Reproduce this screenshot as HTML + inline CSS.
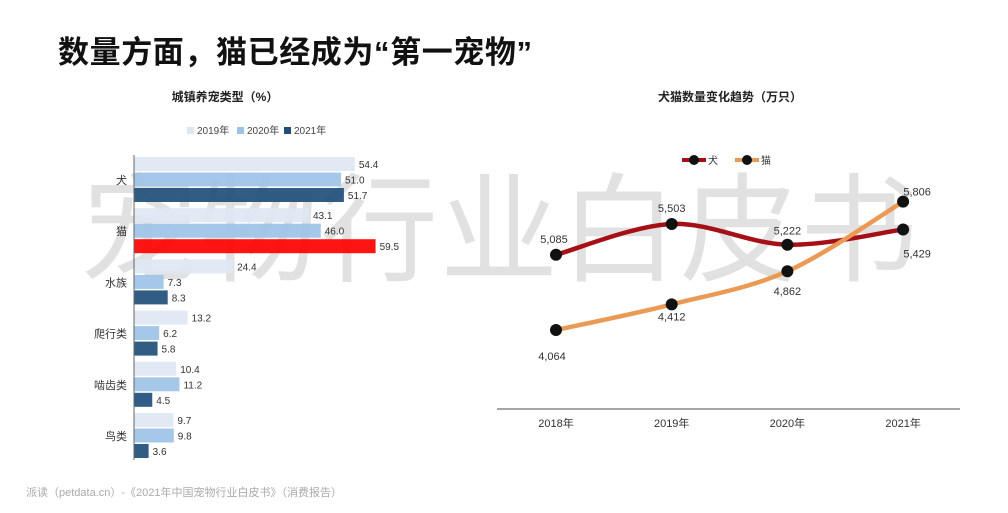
<!DOCTYPE html>
<html><head><meta charset="utf-8">
<style>
body{margin:0;width:1008px;height:513px;background:#fff;overflow:hidden;position:relative;font-family:"Liberation Sans","Noto Sans CJK SC",sans-serif;}
#title{position:absolute;left:58px;top:27px;font-size:31px;font-weight:bold;color:#111;letter-spacing:0.6px;white-space:nowrap;}
#footer{position:absolute;left:26px;top:484px;font-size:11px;color:#aaa;}
svg{position:absolute;left:0;top:0;}
</style></head><body>
<div id="title">数量方面，猫已经成为“第一宠物”</div>
<svg id="chart" width="1008" height="513"></svg>
<div id="footer">派读（petdata.cn）-《2021年中国宠物行业白皮书》（消费报告）</div>
<script>
const barCategories=["犬","猫","水族","爬行类","啮齿类","鸟类"];
const bar2019=[54.4,43.1,24.4,13.2,10.4,9.7];
const bar2020=[51.0,46.0,7.3,6.2,11.2,9.8];
const bar2021=[51.7,59.5,8.3,5.8,4.5,3.6];
const barSeriesNames=["2019年","2020年","2021年"];
const lineYears=["2018年","2019年","2020年","2021年"];
const dogValues=[5085,5503,5222,5429];
const catValues=[4064,4412,4862,5806];
const lineSeriesNames=["犬","猫"];

const svg=document.getElementById('chart');
const NS='http://www.w3.org/2000/svg';
function mk(t,a,txt){const e=document.createElementNS(NS,t);for(const k in a)e.setAttribute(k,a[k]);if(txt!==undefined)e.textContent=txt;svg.appendChild(e);return e;}
const F='"Liberation Sans","Noto Sans CJK SC",sans-serif';

// watermark (behind)
let w=mk('text',{x:500,y:272,'font-size':118,'text-anchor':'middle','font-family':F,fill:'#c4c4c4','fill-opacity':0.5,'letter-spacing':2},'宠物行业白皮书');


// ---- bar chart ----
const bx0=134, bpx=4.06;
const xb=v=>bx0+v*bpx;
const gy=i=>157+i*51.2;
const colors=["#dde7f3","#9dc3e6","#1f4e79"];
let t=mk('text',{x:225,y:101,'font-size':12,'font-weight':'bold','text-anchor':'middle','font-family':F,fill:'#222'},'城镇养宠类型（%）');

const lx=[187,237,284];
barSeriesNames.forEach((n,s)=>{
  let r=mk('rect',{x:lx[s],y:127,width:7,height:7,fill:colors[s]});
  
  let tt=mk('text',{x:lx[s]+10,y:134,'font-size':10,'font-family':F,fill:'#444'},n);
  
});
const series=[bar2019,bar2020,bar2021];
barCategories.forEach((c,i)=>{
  const y0=gy(i);
  series.forEach((arr,s)=>{
    const fill=(i===1&&s===2)?'#ff0000':colors[s];
    const y=y0+s*15.5;
    let r=mk('rect',{x:bx0,y:y,width:xb(arr[i])-bx0,height:14,fill:fill,'fill-opacity':0.92});
    
    let v=mk('text',{x:xb(arr[i])+4,y:y+11,'font-size':10,'font-family':F,fill:'#333'},arr[i].toFixed(1));
    
  });
  let l=mk('text',{x:127,y:y0+27,'font-size':11,'text-anchor':'end','font-family':F,fill:'#333'},c);
  
});
let ax=mk('line',{x1:bx0,y1:155,x2:bx0,y2:460,stroke:'#666','stroke-width':1});


// ---- line chart ----
t=mk('text',{x:730,y:101,'font-size':12,'font-weight':'bold','text-anchor':'middle','font-family':F,fill:'#222'},'犬猫数量变化趋势（万只）');

const xl=i=>556+i*115.7;
const yl=v=>224-(v-5503)*0.0737;
let base=mk('line',{x1:497,y1:409,x2:960,y2:409,stroke:'#888','stroke-width':1.5});

lineYears.forEach((y,i)=>{
  let tt=mk('text',{x:xl(i),y:427,'font-size':11,'text-anchor':'middle','font-family':F,fill:'#333'},y);
  
});
function smooth(pts){
  let d=`M${pts[0][0]},${pts[0][1]}`;
  for(let i=0;i<pts.length-1;i++){
    const p0=pts[i-1]||pts[i],p1=pts[i],p2=pts[i+1],p3=pts[i+2]||p2;
    const c1=[p1[0]+(p2[0]-p0[0])/6,p1[1]+(p2[1]-p0[1])/6];
    const c2=[p2[0]-(p3[0]-p1[0])/6,p2[1]-(p3[1]-p1[1])/6];
    d+=` C${c1[0]},${c1[1]} ${c2[0]},${c2[1]} ${p2[0]},${p2[1]}`;
  }
  return d;
}
const lineCols=["#a50f15","#eb9a55"];
const lineData=[dogValues,catValues];
const offs=[[[-2,-12],[0,-12],[0,-10],[14,28]],[[-4,30],[0,16],[0,24],[14,-6]]];
lineData.forEach((arr,s)=>{
  const pts=arr.map((v,i)=>[xl(i),yl(v)]);
  let p=mk('path',{d:smooth(pts),fill:'none',stroke:lineCols[s],'stroke-width':4.5});
  
});
lineData.forEach((arr,s)=>{
  arr.forEach((v,i)=>{
    let c=mk('circle',{cx:xl(i),cy:yl(v),r:6,fill:'#111'});
    
    const o=offs[s][i];
    let tt=mk('text',{x:xl(i)+o[0],y:yl(v)+o[1],'font-size':11,'text-anchor':'middle','font-family':F,fill:'#333'},v.toLocaleString('en-US'));
    
  });
});
const lgx=[682,735];
lineSeriesNames.forEach((n,s)=>{
  let l=mk('line',{x1:lgx[s],y1:160,x2:lgx[s]+24,y2:160,stroke:lineCols[s],'stroke-width':4});
  
  let c=mk('circle',{cx:lgx[s]+12,cy:160,r:5,fill:'#111'});
  
  let tt=mk('text',{x:lgx[s]+26,y:164,'font-size':10,'font-family':F,fill:'#333'},n);
  
});
</script>
</body></html>
